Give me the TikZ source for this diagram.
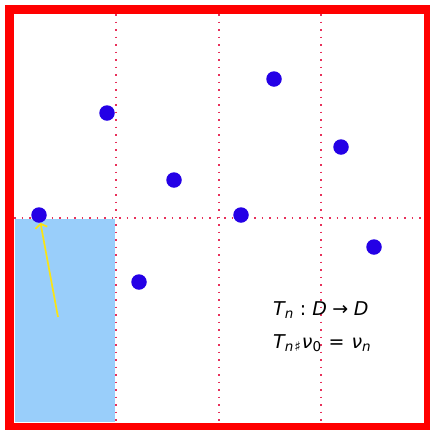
\documentclass[tikz,border=0pt]{standalone}
\usepackage{fontspec}
\newfontfamily\dejavu{DejaVu Sans}
\usetikzlibrary{arrows.meta}
\definecolor{framered}{RGB}{255,0,0}
\definecolor{gridred}{RGB}{232,48,90}
\definecolor{cellblue}{RGB}{153,206,250}
\definecolor{dotblue}{RGB}{36,0,230}
\definecolor{arrowyellow}{RGB}{250,228,20}
\newcommand{\sym}[1]{{\itshape #1}}
\newcommand{\low}[1]{\raisebox{-0.3ex}{\fontsize{13.5}{14}\selectfont #1}}
\newcommand{\gap}[1]{\kern#1pt\relax}

\begin{document}
\begin{tikzpicture}[x=1pt, y=-1pt, >={Straight Barb[length=4pt,width=12pt]},
	gridline/.style={gridred, line width=1.8pt, dash pattern=on 1.8pt off 5.7pt},
	dot/.style={circle, fill=dotblue, inner sep=0pt, minimum size=15.5pt},
	formula/.style={anchor=base west, inner sep=0pt, font=\fontsize{19}{23}\selectfont\dejavu}]
	\useasboundingbox (0,0) rectangle (430,429);
	\fill[cellblue] (15,219) rectangle (115,421.5);
	% grid of the domain
	\foreach \x in {116,219,321} {
		\draw[gridline] (\x,14) -- (\x,423);
	}
	\draw[gridline] (14,218) -- (424,218);
	\draw[framered, line width=9pt] (9.5,9) rectangle (428.5,427.5);
	% sample points
	\foreach \n/\px/\py in {1/39/215, 2/107/113, 3/174/180, 4/139/282, 5/241/215, 6/274/79, 7/341/147, 8/374/247} {
		\node[dot] (p\n) at (\px,\py) {};
	}
	\coordinate (start) at (58,317);
	\draw[->, arrowyellow, line width=1.7pt] (start) -- (p1);
	\node[formula] (map) at (273,315) {\sym{T}\low{\sym{n}}\gap{6.5}:\gap{6}\sym{D}\gap{5.5}→\gap{5.5}\sym{D}};
	\node[formula] (push) at (273,348) {\sym{T}\low{\sym{n}\gap{1}♯}\gap{1}\sym{ν}\low{0}\gap{7.5}=\gap{7}\sym{ν}\low{\sym{n}}};
\end{tikzpicture}
\end{document}
